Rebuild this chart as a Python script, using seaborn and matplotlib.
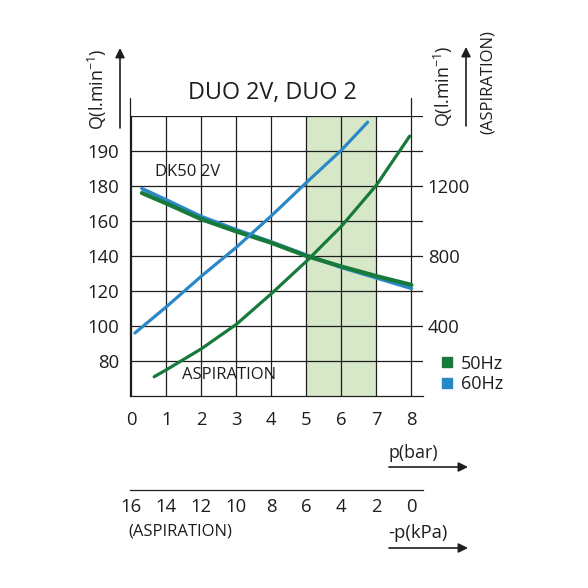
import matplotlib
matplotlib.use("Agg")
import matplotlib.pyplot as plt
from matplotlib.lines import Line2D
import seaborn as sns

# compressor curves (DK50 2V), p in bar, Q in l/min (left scale)
p_bar = [0.3, 1, 2, 3, 4, 5, 6, 7, 8]
q_50hz = [176, 170, 161, 154, 147.5, 140, 134, 128.5, 123.5]
q_60hz = [178.5, 172, 162.5, 155, 148, 140.5, 133.5, 127.5, 121.5]

# aspiration curves, -p in kPa, Q in l/min (right scale)
kpa_asp_50 = [14.7, 14, 12, 10, 8, 6, 4, 2, 0.1]
q_asp_50 = [110, 150, 270, 410, 585, 770, 970, 1205, 1485]
kpa_asp_60 = [15.8, 14, 12, 10, 8, 6, 4, 2.5]
q_asp_60 = [360, 510, 685, 850, 1030, 1220, 1405, 1565]

band = (5, 7)
bar_ticks = [0, 1, 2, 3, 4, 5, 6, 7, 8]
kpa_ticks = [16, 14, 12, 10, 8, 6, 4, 2, 0]
left_ticks = [80, 100, 120, 140, 160, 180, 200, 220]
left_labels = ["80", "100", "120", "140", "160", "180", "190", ""]
right_ticks = [400, 800, 1200]

GREEN = "#177a3b"
BLUE = "#2a88c8"
INK = "#1e1e1e"

sns.set_style("white")
plt.rcParams["font.family"] = ["Open Sans", "DejaVu Sans"]
plt.rcParams["mathtext.fontset"] = "custom"
plt.rcParams["mathtext.rm"] = "Open Sans"
plt.rcParams["mathtext.default"] = "rm"

W = 588.0
fig = plt.figure(figsize=(5.88, 5.88), dpi=100)
rect = [130 / W, 1 - 396 / W, 293 / W, 280 / W]
ax = fig.add_axes(rect)

ax.set_xlim(-0.04, 8.33)
ax.set_ylim(60, 220)
ax.axvspan(*band, color="#d7e8c8", lw=0, zorder=0)

sns.lineplot(x=p_bar, y=q_60hz, ax=ax, color=BLUE, lw=2.6, sort=False, estimator=None, zorder=3)
sns.lineplot(x=p_bar, y=q_50hz, ax=ax, color=GREEN, lw=3.0, sort=False, estimator=None, zorder=4)

ax.set_xticks(bar_ticks)
ax.set_yticks(left_ticks)
ax.set_yticklabels(left_labels)
ax.grid(True, color=INK, lw=0.9)
ax.set_axisbelow(True)
for s in ["top", "right"]:
    ax.spines[s].set_visible(False)
for s in ["left", "bottom"]:
    ax.spines[s].set_color(INK)
    ax.spines[s].set_linewidth(0.9)
ax.tick_params(axis="x", direction="out", length=8.6, width=0.9, color=INK,
               labelsize=13.3, labelcolor=INK, pad=2.5)
ax.tick_params(axis="y", direction="out", length=3.5, width=0.9, color=INK,
               labelsize=13.3, labelcolor=INK, pad=4.5)
ax.get_xticklines()[0].set_visible(False)
ax.set_xlabel("")
ax.set_ylabel("")
# left spine and last gridline run a bit above the grid
ax.plot([0, 0], [1, 1.064], transform=ax.transAxes, color=INK, lw=0.9, clip_on=False)
ax.axvline(8, ymin=1, ymax=1.064, color=INK, lw=0.9, clip_on=False)

# aspiration overlay: kPa on x (reversed), right scale on y
axr = fig.add_axes(rect)
axr.patch.set_visible(False)
axr.set_xlim(16.08, -0.66)
axr.set_ylim(0, 1600)
sns.lineplot(x=kpa_asp_60, y=q_asp_60, ax=axr, color=BLUE, lw=2.3, sort=False, estimator=None)
sns.lineplot(x=kpa_asp_50, y=q_asp_50, ax=axr, color=GREEN, lw=2.3, sort=False, estimator=None)
axr.xaxis.set_visible(False)
axr.yaxis.tick_right()
axr.set_yticks(right_ticks)
axr.tick_params(axis="y", length=0, labelsize=13.3, labelcolor=INK, pad=3.5)
axr.set_xlabel("")
axr.set_ylabel("")
for s in axr.spines.values():
    s.set_visible(False)

# lower kPa scale
axk = fig.add_axes([130 / W, 1 - 490 / W, 293 / W, 0.001])
axk.set_xlim(16.08, -0.66)
axk.set_xticks(kpa_ticks)
axk.set_yticks([])
axk.patch.set_visible(False)
for s in ["top", "left", "right"]:
    axk.spines[s].set_visible(False)
axk.spines["bottom"].set_color(INK)
axk.spines["bottom"].set_linewidth(0.9)
axk.tick_params(axis="x", direction="in", length=3, width=0.9, color=INK,
                labelsize=13.3, labelcolor=INK, pad=5.5)

# texts
fig.text(272 / W, 1 - 93 / W, "DUO 2V, DUO 2", fontsize=16.8, color=INK, ha="center", va="center")
ax.text(0.67, 188, "DK50 2V", fontsize=12, color=INK, ha="left", va="center")
ax.text(1.45, 72, "ASPIRATION", fontsize=12, color=INK, ha="left", va="center")

ylab = "Q(l.min$^{-1}$)"
fig.text(97 / W, 1 - 89 / W, ylab, rotation=90, fontsize=12.8, color=INK, ha="center", va="center")
fig.text(443 / W, 1 - 86 / W, ylab, rotation=90, fontsize=12.8, color=INK, ha="center", va="center")
fig.text(488 / W, 1 - 82 / W, "(ASPIRATION)", rotation=90, fontsize=12, color=INK, ha="center", va="center")
fig.text(388 / W, 1 - 453 / W, "p(bar)", fontsize=12.8, color=INK, ha="left", va="center")
fig.text(388 / W, 1 - 533 / W, "-p(kPa)", fontsize=13.2, color=INK, ha="left", va="center")
fig.text(128 / W, 1 - 532 / W, "(ASPIRATION)", fontsize=12, color=INK, ha="left", va="center")

arrow = dict(arrowstyle="-|>", lw=1.2, color=INK, mutation_scale=14, shrinkA=0, shrinkB=0)
for (x0, y0), (x1, y1) in [((120, 128), (120, 48)), ((466, 126), (466, 47)),
                           ((389, 467), (468, 467)), ((389, 548), (468, 548))]:
    fig.add_artist(matplotlib.patches.FancyArrowPatch(
        (x0 / W, 1 - y0 / W), (x1 / W, 1 - y1 / W), transform=fig.transFigure, **arrow))

handles = [Line2D([], [], marker="s", ls="none", color=GREEN, markersize=7.5),
           Line2D([], [], marker="s", ls="none", color=BLUE, markersize=7.5)]
fig.legend(handles, ["50Hz", "60Hz"], loc="center left", bbox_to_anchor=(440 / W, 1 - 374 / W),
           frameon=False, fontsize=13, handlelength=0.8, handletextpad=0.35,
           labelspacing=0.15, borderaxespad=0, borderpad=0, labelcolor=INK)

fig.savefig("out.png", dpi=100)
